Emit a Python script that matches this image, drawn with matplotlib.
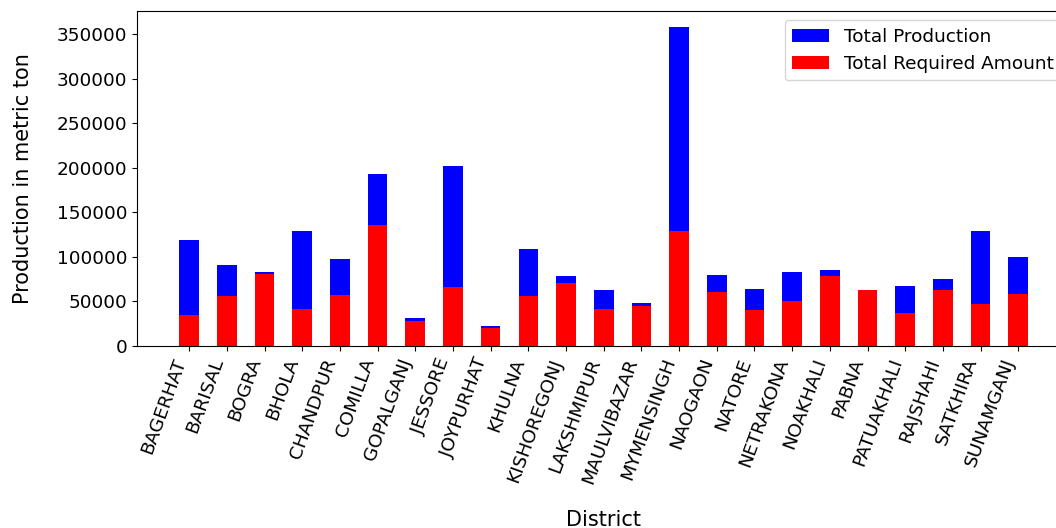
import matplotlib
matplotlib.use("Agg")
import matplotlib.pyplot as plt
import numpy as np

districts = ["BAGERHAT", "BARISAL", "BOGRA", "BHOLA", "CHANDPUR", "COMILLA",
             "GOPALGANJ", "JESSORE", "JOYPURHAT", "KHULNA", "KISHOREGONJ",
             "LAKSHMIPUR", "MAULVIBAZAR", "MYMENSINGH", "NAOGAON", "NATORE",
             "NETRAKONA", "NOAKHALI", "PABNA", "PATUAKHALI", "RAJSHAHI",
             "SATKHIRA", "SUNAMGANJ"]

total_production = [119300, 91500, 83650, 129400, 97900, 193550, 31100, 201800,
                    22900, 108800, 78400, 62600, 48800, 358200, 79500, 64500,
                    83650, 85900, 62000, 67900, 75000, 128650, 100100]
total_required = [34900, 55900, 81400, 42000, 57400, 135400, 27750, 66800,
                  19900, 56650, 71300, 42000, 45400, 128700, 60400, 40100,
                  50250, 79150, 63400, 37500, 63400, 47600, 58500]

plt.rcParams['font.size'] = 13.3
fig = plt.figure(figsize=(10.56, 5.28), dpi=100)
ax = fig.add_axes([0.1297, 0.3447, 0.884, 0.6343])

x = np.arange(1, len(districts) + 1)
ax.bar(x, total_production, width=0.52, color="blue", label="Total Production")
ax.bar(x, total_required, width=0.52, color="red", label="Total Required Amount")

ax.set_xticks(x)
ax.set_xticklabels(districts, rotation=70, ha="right")
ax.set_xlabel("District", fontsize=15, labelpad=17)
ax.set_ylabel("Production in metric ton", fontsize=15, labelpad=17)
ax.legend(loc="upper right")

fig.savefig("out.png", dpi=100)
